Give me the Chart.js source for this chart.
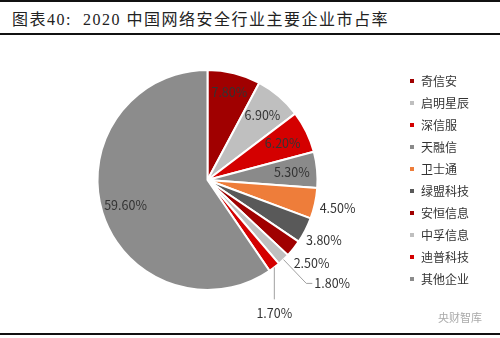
<!DOCTYPE html>
<html lang="zh">
<head>
    <meta charset="UTF-8">
    <title>2020 中国网络安全行业主要企业市占率</title>
    <script src="https://cdn.jsdelivr.net/npm/chart.js"></script>
    <style>
        body {
            margin: 0;
            width: 500px;
            height: 338px;
            background: #fff;
            position: relative;
            overflow: hidden;
            font-family: "Noto Sans CJK SC", sans-serif;
        }
        #title {
            position: absolute;
            left: 12px;
            top: 6px;
            font-family: "Liberation Serif", "Noto Sans CJK SC", serif;
            font-size: 16px;
            letter-spacing: 1.5px;
            color: #222;
            white-space: pre;
        }
        .rule {
            position: absolute;
            left: 0;
            width: 500px;
            height: 2px;
            background: #111;
        }
        #chart-container {
            position: absolute;
            left: 0;
            top: 38px;
            width: 500px;
            height: 292px;
        }
        #source {
            position: absolute;
            right: 18px;
            top: 309px;
            font-size: 11px;
            color: #aaa;
        }
    </style>
</head>
<body>
    <div class="rule" style="top:0"></div>
    <div id="title">图表40:  2020 中国网络安全行业主要企业市占率</div>
    <div class="rule" style="top:33px"></div>
    <div id="chart-container">
        <canvas id="shareChart"></canvas>
    </div>
    <div id="source">央财智库</div>
    <div class="rule" style="top:333px"></div>

    <script>
        // Market share data (%)
        const companies = ['奇信安', '启明星辰', '深信服', '天融信', '卫士通', '绿盟科技', '安恒信息', '中孚信息', '迪普科技', '其他企业'];
        const shares = [7.8, 6.9, 6.2, 5.3, 4.5, 3.8, 2.5, 1.8, 1.7, 59.6];

        const sliceColors = ['#a00000', '#bfbfbf', '#d40000', '#8a8a8a', '#ee7d3a', '#595959', '#a00000', '#bfbfbf', '#d40000', '#8c8c8c'];

        // how each percentage label is placed
        const labelModes = ['in', 'in', 'in', 'in', 'out', 'out', 'out', 'elbow', 'drop', 'in'];
        const labelRadius = [0.82, 0.77, 0.76, 0.77, 1.21, 1.19, 1.21, 1.3, 1.0, 0.78];

        const sliceLabels = {
            id: 'sliceLabels',
            afterDatasetsDraw(chart) {
                const ctx = chart.ctx;
                const meta = chart.getDatasetMeta(0);
                ctx.save();
                ctx.font = '12.5px "Noto Sans CJK SC", sans-serif';
                ctx.fillStyle = '#333';
                ctx.strokeStyle = '#a0a0a0';
                ctx.lineWidth = 1;
                ctx.textBaseline = 'middle';
                meta.data.forEach((arc, i) => {
                    const p = arc.getProps(['x', 'y', 'startAngle', 'endAngle', 'outerRadius'], true);
                    const mid = (p.startAngle + p.endAngle) / 2;
                    const cos = Math.cos(mid), sin = Math.sin(mid);
                    const r = p.outerRadius;
                    const f = labelRadius[i];
                    const text = shares[i].toFixed(2) + '%';
                    const mode = labelModes[i];
                    if (mode === 'in' || mode === 'out') {
                        ctx.textAlign = 'center';
                        ctx.fillText(text, p.x + cos * r * f, p.y + sin * r * f);
                    } else if (mode === 'elbow') {
                        const ex = p.x + cos * r, ey = p.y + sin * r;
                        const bx = p.x + cos * r * f, by = p.y + sin * r * f;
                        ctx.beginPath();
                        ctx.moveTo(ex, ey);
                        ctx.lineTo(bx, by);
                        ctx.lineTo(bx + 6, by);
                        ctx.stroke();
                        ctx.textAlign = 'left';
                        ctx.fillText(text, bx + 8, by);
                    } else if (mode === 'drop') {
                        const ex = p.x + cos * r, ey = p.y + sin * r;
                        ctx.beginPath();
                        ctx.moveTo(ex, ey);
                        ctx.lineTo(ex, ey + 32);
                        ctx.stroke();
                        ctx.textAlign = 'center';
                        ctx.fillText(text, ex, ey + 46);
                    }
                });
                ctx.restore();
            }
        };

        const ctx = document.getElementById('shareChart').getContext('2d');
        const chart = new Chart(ctx, {
            type: 'pie',
            data: {
                labels: companies,
                datasets: [{
                    data: shares,
                    backgroundColor: sliceColors,
                    borderColor: '#ffffff',
                    borderWidth: 2,
                    radius: 110
                }]
            },
            options: {
                responsive: true,
                maintainAspectRatio: false,
                animation: false,
                layout: {
                    padding: { left: 16, right: 21, top: 0, bottom: 8 }
                },
                plugins: {
                    tooltip: { enabled: false },
                    legend: {
                        position: 'right',
                        align: 'center',
                        labels: {
                            boxWidth: 6,
                            boxHeight: 6,
                            padding: 10,
                            color: '#333',
                            font: { family: '"Noto Sans CJK SC", sans-serif', size: 12 }
                        }
                    }
                }
            },
            plugins: [sliceLabels]
        });
    </script>
</body>
</html>
